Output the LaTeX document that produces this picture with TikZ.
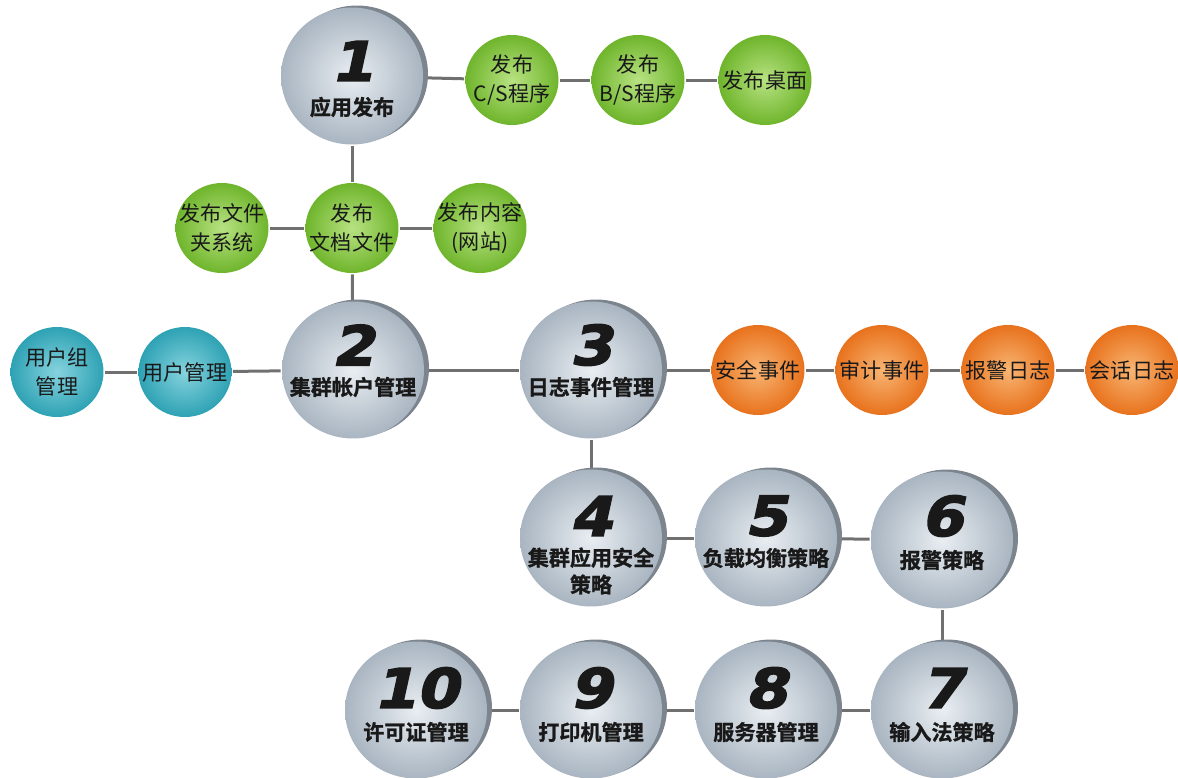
\documentclass[tikz,border=0pt]{standalone}
\usepackage{fontspec}
\newfontfamily\cjk{Noto Sans CJK SC}
\newfontfamily\cjkbf[FakeBold=1.2]{Noto Sans CJK SC Bold}
\newfontfamily\numfont[FakeBold=3,FakeSlant=0.22,FakeStretch=1.12]{DejaVu Sans Bold}
\usetikzlibrary{shapes.geometric,calc,backgrounds}

\definecolor{linegrey}{HTML}{707070}
\definecolor{ballin}{HTML}{E9EEF2}
\definecolor{ballout}{HTML}{A9B5C1}
\definecolor{ballrim}{HTML}{7C848E}
\definecolor{greenin}{HTML}{B8E282}
\definecolor{greenout}{HTML}{6FB52C}
\definecolor{tealin}{HTML}{86D3DE}
\definecolor{tealout}{HTML}{2EA2B4}
\definecolor{orangein}{HTML}{F8B573}
\definecolor{orangeout}{HTML}{E8721D}

\tikzstyle{ball}=[ellipse,inner sep=0pt]
\tikzstyle{bigball}=[ball,minimum width=2.84cm,minimum height=2.74cm,inner color=ballin,outer color=ballout,
  preaction={fill=ballrim,transform canvas={xshift=0.1cm,yshift=0.04cm}}]
\tikzstyle{smallball}=[ball,minimum width=1.86cm,minimum height=1.8cm]
\tikzstyle{greenball}=[smallball,inner color=greenin,outer color=greenout]
\tikzstyle{tealball}=[smallball,inner color=tealin,outer color=tealout]
\tikzstyle{orangeball}=[smallball,inner color=orangein,outer color=orangeout]
\tikzstyle{balltxt}=[inner sep=0pt,text=black!90,align=center,font=\cjk\fontsize{12}{16.5}\selectfont]
\tikzstyle{numtxt}=[inner sep=0pt,text=black!90,font=\numfont\fontsize{31}{31}\selectfont]
\tikzstyle{steptxt}=[inner sep=0pt,text=black!90,align=center,font=\cjkbf\fontsize{12}{15.3}\selectfont]
\tikzstyle{every path}+=[line width=0.06cm]

\newcommand{\linkup}[2][linegrey]{
	\foreach \a/\b in {#2}{
		\draw[#1] (\a) -- (\b);
	}
}

\begin{document}
\begin{tikzpicture}[x=0.02cm,y=-0.02cm]
\useasboundingbox (0,0) rectangle (1178,778);

% big steps
\node[bigball] (n1) at (352,76) {};
\node[bigball] (n2) at (353,370) {};
\node[bigball] (n3) at (591,370) {};
\node[bigball] (n4) at (591,538) {};
\node[bigball] (n5) at (766,538) {};
\node[bigball] (n6) at (942,540) {};
\node[bigball] (n7) at (942,710) {};
\node[bigball] (n8) at (766,710) {};
\node[bigball] (n9) at (591,710) {};
\node[bigball] (n10) at (416,710) {};

\node[numtxt] (n1num) at ($(n1)+(0,-15)$) {1};
\node[steptxt] (n1txt) at ($(n1)+(0,31)$) {应用发布};
\node[numtxt] (n2num) at ($(n2)+(0,-25)$) {2};
\node[steptxt] (n2txt) at ($(n2)+(0,17)$) {集群帐户管理};
\node[numtxt] (n3num) at ($(n3)+(0,-25)$) {3};
\node[steptxt] (n3txt) at ($(n3)+(0,17)$) {日志事件管理};
\node[numtxt] (n4num) at ($(n4)+(0,-22)$) {4};
\node[steptxt] (n4txt) at ($(n4)+(0,33)$) {集群应用安全\\策略};
\node[numtxt] (n5num) at ($(n5)+(0,-22)$) {5};
\node[steptxt] (n5txt) at ($(n5)+(0,20)$) {负载均衡策略};
\node[numtxt] (n6num) at ($(n6)+(0,-24)$) {6};
\node[steptxt] (n6txt) at ($(n6)+(0,20)$) {报警策略};
\node[numtxt] (n7num) at ($(n7)+(0,-22)$) {7};
\node[steptxt] (n7txt) at ($(n7)+(0,22)$) {输入法策略};
\node[numtxt] (n8num) at ($(n8)+(0,-22)$) {8};
\node[steptxt] (n8txt) at ($(n8)+(0,22)$) {服务器管理};
\node[numtxt] (n9num) at ($(n9)+(0,-22)$) {9};
\node[steptxt] (n9txt) at ($(n9)+(0,22)$) {打印机管理};
\node[numtxt] (n10num) at ($(n10)+(0,-22)$) {10};
\node[steptxt] (n10txt) at ($(n10)+(0,22)$) {许可证管理};

% publishing
\node[greenball] (cs) at (512,80) {};
\node[greenball] (bs) at (638,80) {};
\node[greenball] (desk) at (765,80) {};
\node[greenball] (doc) at (352,228) {};
\node[greenball] (folder) at (222,228) {};
\node[greenball] (web) at (480,228) {};
\node[balltxt] (cstxt) at (cs) {发布\\C/S程序};
\node[balltxt] (bstxt) at (bs) {发布\\B/S程序};
\node[balltxt] (desktxt) at (desk) {发布桌面};
\node[balltxt] (doctxt) at (doc) {发布\\文档文件};
\node[balltxt] (foldertxt) at (folder) {发布文件\\夹系统};
\node[balltxt] (webtxt) at (web) {发布内容\\(网站)};

% users
\node[tealball] (user) at (185,372) {};
\node[tealball] (group) at (57,372) {};
\node[balltxt] (usertxt) at (user) {用户管理};
\node[balltxt] (grouptxt) at (group) {用户组\\管理};

% events
\node[orangeball] (sec) at (758,370) {};
\node[orangeball] (audit) at (882,370) {};
\node[orangeball] (alarm) at (1008,370) {};
\node[orangeball] (sess) at (1132,370) {};
\node[balltxt] (sectxt) at (sec) {安全事件};
\node[balltxt] (audittxt) at (audit) {审计事件};
\node[balltxt] (alarmtxt) at (alarm) {报警日志};
\node[balltxt] (sesstxt) at (sess) {会话日志};

\begin{scope}[on background layer]
\linkup{n1/doc,doc/n2,folder/doc,doc/web,n1/cs,cs/bs,bs/desk,group/user,user/n2,n2/n3}
\linkup{n3/sec,sec/audit,audit/alarm,alarm/sess,n3/n4,n4/n5,n5/n6,n6/n7,n7/n8,n8/n9,n9/n10}
\end{scope}
\end{tikzpicture}
\end{document}
